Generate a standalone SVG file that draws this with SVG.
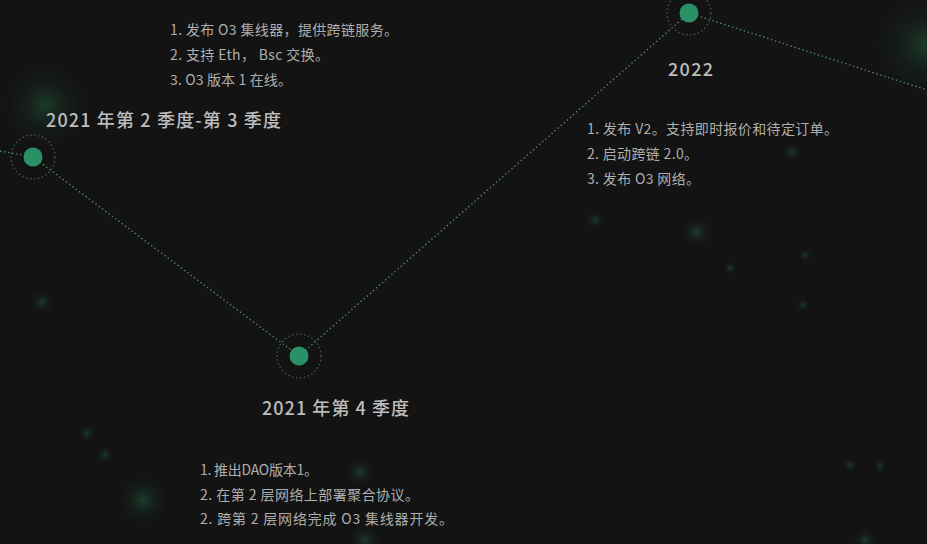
<svg xmlns="http://www.w3.org/2000/svg" width="927" height="544" viewBox="0 0 927 544">
<defs>
<radialGradient id="glow" cx="0.5" cy="0.5" r="0.5">
<stop offset="0" stop-color="#2f8a5c" stop-opacity="0.35"/>
<stop offset="0.45" stop-color="#22603f" stop-opacity="0.16"/>
<stop offset="1" stop-color="#1a3a2a" stop-opacity="0"/>
</radialGradient>
<style>
.title{font-family:"Noto Sans CJK SC","Noto Sans",sans-serif;font-size:18px;font-weight:500;fill:#bdbdbd}
.body{font-family:"Noto Sans CJK SC","Noto Sans",sans-serif;font-size:14px;fill:#aeaeae}
.dot{fill:#2a9066}
.ring{fill:none;stroke:#44604f;stroke-width:1.2;stroke-dasharray:1.5 2.5}
.link{fill:none;stroke:#4a8a6c;stroke-width:1.3;stroke-dasharray:1.5 2.6}
.g{fill:url(#glow)}
</style>
</defs>
<rect width="927" height="544" fill="#131313"/>
<g id="glows">
<circle class="g" cx="45" cy="105" r="42"/>
<circle class="g" cx="925" cy="45" r="50"/>
<circle class="g" cx="697" cy="232" r="16"/>
<circle class="g" cx="595" cy="220" r="10"/>
<circle class="g" cx="805" cy="255" r="7"/>
<circle class="g" cx="730" cy="268" r="7"/>
<circle class="g" cx="803" cy="305" r="7"/>
<circle class="g" cx="792" cy="152" r="9"/>
<circle class="g" cx="360" cy="472" r="16"/>
<circle class="g" cx="143" cy="500" r="26"/>
<circle class="g" cx="42" cy="302" r="12"/>
<circle class="g" cx="87" cy="433" r="9"/>
<circle class="g" cx="105" cy="455" r="9"/>
<circle class="g" cx="850" cy="465" r="7"/>
<circle class="g" cx="880" cy="466" r="7"/>
<circle class="g" cx="865" cy="540" r="12"/>
<circle class="g" cx="365" cy="540" r="16"/>
</g>
<g id="connectors">
<line class="link" x1="0" y1="151" x2="33" y2="157"/>
<line class="link" x1="33" y1="157" x2="299" y2="356"/>
<line class="link" x1="299" y1="356" x2="689" y2="13"/>
<line class="link" x1="689" y1="13" x2="927" y2="90"/>
</g>
<g id="node-2021q2q3">
<circle class="ring" cx="33" cy="157" r="22"/>
<circle class="dot" cx="33" cy="157" r="9.5"/>
<text class="title" x="46" y="127" textLength="235">2021 年第 2 季度-第 3 季度</text>
<text class="body" x="170" y="35" textLength="228">1. 发布 O3 集线器，提供跨链服务。</text>
<text class="body" x="170" y="60" textLength="159">2. 支持 Eth， Bsc 交换。</text>
<text class="body" x="170" y="85" textLength="122">3. O3 版本 1 在线。</text>
</g>
<g id="node-2021q4">
<circle class="ring" cx="299" cy="356" r="22"/>
<circle class="dot" cx="299" cy="356" r="9.5"/>
<text class="title" x="262" y="415" textLength="147">2021 年第 4 季度</text>
<text class="body" x="200" y="475" textLength="118">1. 推出DAO版本1。</text>
<text class="body" x="200" y="500" textLength="219">2. 在第 2 层网络上部署聚合协议。</text>
<text class="body" x="200" y="524" textLength="253">2. 跨第 2 层网络完成 O3 集线器开发。</text>
</g>
<g id="node-2022">
<circle class="ring" cx="689" cy="13" r="22"/>
<circle class="dot" cx="689" cy="13" r="9.5"/>
<text class="title" x="668" y="76" textLength="45">2022</text>
<text class="body" x="587" y="134" textLength="251">1. 发布 V2。支持即时报价和待定订单。</text>
<text class="body" x="587" y="159" textLength="111">2. 启动跨链 2.0。</text>
<text class="body" x="587" y="184" textLength="113">3. 发布 O3 网络。</text>
</g>
</svg>
